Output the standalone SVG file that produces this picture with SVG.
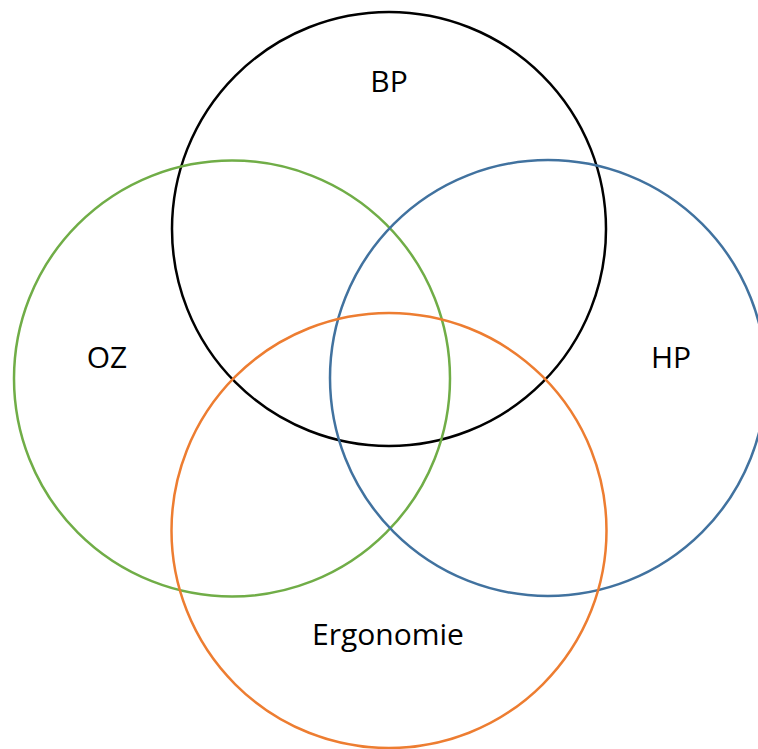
<svg xmlns="http://www.w3.org/2000/svg" width="758" height="749" viewBox="0 0 758 749">
<style>
.c{fill:none;stroke-width:2.5}
.t{font-family:"Open Sans","Liberation Sans",sans-serif;font-size:30px;fill:#000;text-anchor:middle}
</style>
<rect width="758" height="749" fill="#fff"/>
<g id="bp"><circle class="c" cx="389" cy="229" r="217" stroke="#000"/><text class="t" x="389" y="92">BP</text></g>
<g id="oz"><circle class="c" cx="232" cy="378.5" r="218" stroke="#70AD47"/><text class="t" x="107" y="368">OZ</text></g>
<g id="hp"><circle class="c" cx="548" cy="378" r="218" stroke="#41729F"/><text class="t" x="671" y="368">HP</text></g>
<g id="ergonomie"><circle class="c" cx="389" cy="530.5" r="217.5" stroke="#ED7D31"/><text class="t" x="388" y="645">Ergonomie</text></g>
<g id="connectors"/>
</svg>
